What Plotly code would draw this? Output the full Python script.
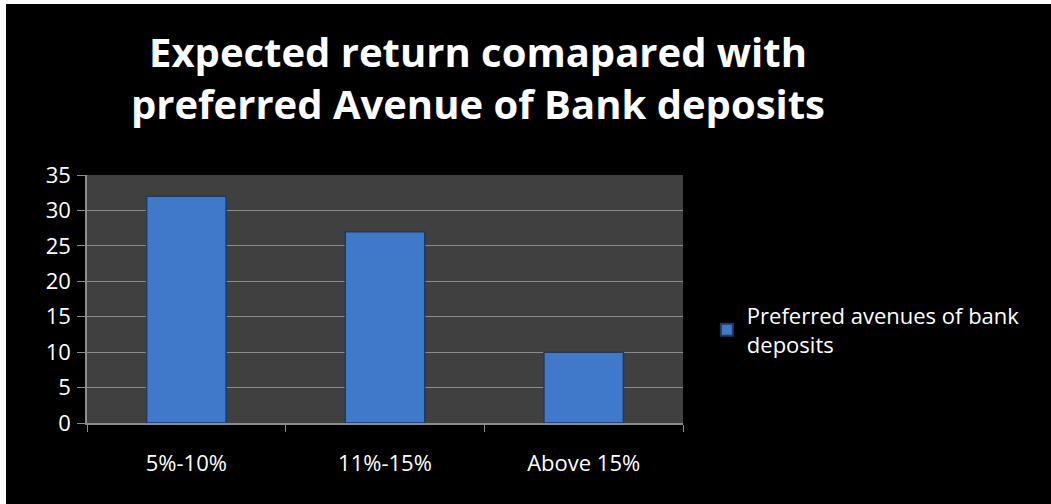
import plotly.graph_objects as go

categories = ["5%-10%", "11%-15%", "Above 15%"]
values = [32, 27, 10]
series_name = "Preferred avenues of bank<br>deposits"
title_text = "Expected return comapared with<br>preferred Avenue of Bank deposits"

fig = go.Figure()
fig.add_trace(go.Bar(
    x=categories, y=values, name=series_name,
    marker=dict(color="#4079c9", line=dict(color="#1c3a66", width=1.5)),
    showlegend=True,
))

W, H = 1045, 500
font_family = "Open Sans, Lato, DejaVu Sans, sans-serif"
fig.update_layout(
    width=W, height=H,
    paper_bgcolor="#000000", plot_bgcolor="#404040",
    margin=dict(l=81, r=368, t=171, b=81),
    bargap=0.6,
    title=dict(text="<b>" + title_text + "</b>", x=472/W, xanchor="center",
               y=1 - 63/H, yanchor="middle",
               font=dict(family=font_family, size=40, color="white")),
    font=dict(family=font_family, color="white", size=22),
    showlegend=True,
    legend=dict(x=1.04, xanchor="left", y=0.374, yanchor="middle",
                bgcolor="rgba(0,0,0,0)", font=dict(size=22, color="white"),
                itemsizing="constant"),
    xaxis=dict(showline=True, linecolor="#8c8c8c", linewidth=1.5,
               ticks="outside", tickson="boundaries", ticklen=7, tickcolor="#8c8c8c",
               tickfont=dict(size=22, color="white"), ticklabelstandoff=20,
               showgrid=False),
    yaxis=dict(range=[0, 35], dtick=5, showline=True, linecolor="#8c8c8c", linewidth=1.5,
               ticks="outside", ticklen=8, tickcolor="#8c8c8c",
               gridcolor="#8c8c8c", gridwidth=1.2, zeroline=False,
               tickfont=dict(size=22, color="white"), ticklabelstandoff=2),
)

fig.write_html(
    "out.html",
    config={"displayModeBar": False},
    post_script="document.body.style.margin='0';document.body.style.padding='4px 0 0 6px';document.body.style.background='#fff';",
)
